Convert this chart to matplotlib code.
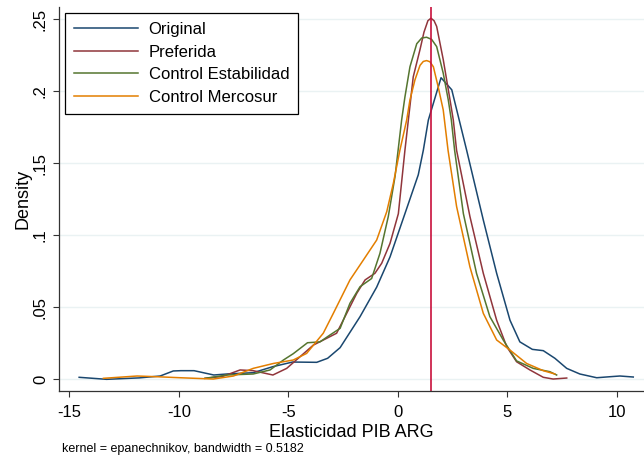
import matplotlib
matplotlib.use("Agg")
import matplotlib.pyplot as plt

plt.rcParams['font.family'] = ['Liberation Sans', 'DejaVu Sans']
plt.rcParams['axes.unicode_minus'] = False

# densities (x = elasticity, y = density)
orig_x = [-14.55, -13.3, -11.8, -10.85, -10.25, -9.9, -9.3, -8.4, -7.8, -6.6, -5.7, -4.8,
          -3.7, -3.2, -2.63, -1.72, -0.96, -0.35, 0.33, 0.94, 1.17, 1.4, 1.98, 2.47, 3.15,
          3.91, 4.52, 5.13, 5.58, 6.15, 6.65, 7.18, 7.72, 8.32, 9.09, 9.69, 10.15, 10.76]
orig_y = [0.0014, 0.0, 0.001, 0.0023, 0.0058, 0.006, 0.006, 0.003, 0.0037, 0.0046, 0.0088, 0.012,
          0.0118, 0.0146, 0.022, 0.0435, 0.064, 0.085, 0.115, 0.142, 0.159, 0.180, 0.2094, 0.201, 0.159,
          0.1106, 0.0736, 0.041, 0.026, 0.0208, 0.0199, 0.0146, 0.0076, 0.0037, 0.0011, 0.0018, 0.0023, 0.0016]

pref_x = [-8.8, -8.0, -7.2, -6.6, -5.7, -5.07, -4.46, -3.85, -3.24, -2.79, -2.33, -1.87,
          -1.49, -1.04, -0.73, -0.35, 0.03, 0.33, 0.71, 1.02, 1.2, 1.38, 1.52, 1.66, 1.78, 2.08, 2.39,
          2.54, 2.69, 3.3, 3.91, 4.52, 4.98, 5.43, 6.04, 6.65, 7.1, 7.72]
pref_y = [0.0007, 0.002, 0.0065, 0.006, 0.003, 0.0076, 0.0157, 0.0238, 0.0285, 0.032, 0.0458, 0.0597,
          0.069, 0.0736, 0.0806, 0.0944, 0.115, 0.159, 0.210, 0.229, 0.241, 0.249, 0.2507, 0.249, 0.245, 0.222, 0.194,
          0.180, 0.159, 0.113, 0.0736, 0.041, 0.0227, 0.0122, 0.0065, 0.0014, 0.0002, 0.0009]

estab_x = [-8.8, -7.8, -6.6, -5.83, -5.22, -4.77, -4.12, -3.55, -3.09, -2.63, -2.18, -1.72,
           -1.19, -0.81, -0.43, -0.12, 0.18, 0.33, 0.56, 0.87, 1.1, 1.32, 1.55, 1.78, 2.08, 2.31, 2.45,
           2.6, 3.0, 3.6, 4.21, 4.82, 5.43, 6.19, 6.95, 7.26]
estab_y = [0.0007, 0.003, 0.0037, 0.0065, 0.0134, 0.0178, 0.0254, 0.026, 0.0308, 0.0354, 0.0528, 0.0643,
           0.070, 0.0875, 0.113, 0.141, 0.180, 0.196, 0.217, 0.233, 0.237, 0.2375, 0.236, 0.231, 0.2125, 0.194, 0.180,
           0.159, 0.115, 0.0736, 0.0435, 0.0273, 0.0128, 0.0076, 0.0053, 0.003]

merc_x = [-13.44, -11.9, -11.0, -9.94, -8.42, -7.5, -6.6, -5.68, -4.77, -4.16, -3.4, -2.94,
          -2.18, -1.57, -0.96, -0.5, -0.2, 0.1, 0.41, 0.56, 0.79, 1.02, 1.17, 1.32, 1.47, 1.63, 1.85,
          2.08, 2.3, 2.69, 3.3, 3.91, 4.52, 5.13, 5.89, 6.65, 7.18]
merc_y = [0.0007, 0.0023, 0.0018, 0.0011, 0.0002, 0.0023, 0.0076, 0.011, 0.0134, 0.018, 0.032, 0.0458,
          0.069, 0.0828, 0.0967, 0.1164, 0.136, 0.159, 0.180, 0.194, 0.208, 0.218, 0.2207, 0.2213, 0.2205, 0.217, 0.203,
          0.187, 0.159, 0.12, 0.078, 0.0458, 0.0273, 0.0203, 0.011, 0.006, 0.0037]

vline_x = 1.52
xticks = [-15, -10, -5, 0, 5, 10]
yticks = [0, 0.05, 0.1, 0.15, 0.2, 0.25]
ytick_labels = ['0', '.05', '.1', '.15', '.2', '.25']

fig = plt.figure(figsize=(6.44, 4.59), dpi=100)
ax = fig.add_axes([59/644, 1 - 390.7/459, 585/644, 383.7/459])

for y in yticks:
    ax.axhline(y, color='#eaf2f3', lw=1.0, zorder=0)

ax.plot(orig_x, orig_y, color='#1a476f', lw=1.1, label='Original')
ax.plot(pref_x, pref_y, color='#90353b', lw=1.1, label='Preferida')
ax.plot(estab_x, estab_y, color='#55752f', lw=1.1, label='Control Estabilidad')
ax.plot(merc_x, merc_y, color='#e37e00', lw=1.1, label='Control Mercosur')
ax.axvline(vline_x, color='#c8103c', lw=1.2)

ax.set_xlim(-15.47, 11.25)
ax.set_ylim(-0.0079, 0.2585)
ax.set_xticks(xticks)
ax.set_yticks(yticks)
ax.set_yticklabels(ytick_labels, rotation=90, va='center')
ax.tick_params(labelsize=12, length=4, width=0.8, color='#333333')
ax.tick_params(axis='x', pad=6)
ax.tick_params(axis='y', pad=4)
for s in ['top', 'right']:
    ax.spines[s].set_visible(False)
for s in ['left', 'bottom']:
    ax.spines[s].set_color('#333333')
    ax.spines[s].set_linewidth(0.9)

ax.set_xlabel('Elasticidad PIB ARG', fontsize=13, labelpad=3)
ax.set_ylabel('Density', fontsize=13, labelpad=1)

leg = ax.legend(loc='upper left', bbox_to_anchor=(0.0103, 0.984), borderaxespad=0,
                fontsize=12, handlelength=3.8, handletextpad=0.66, borderpad=0.55,
                labelspacing=0.45, fancybox=False, framealpha=1)
leg.get_frame().set_edgecolor('black')
leg.get_frame().set_linewidth(0.9)

fig.text(62/644, 1 - 449/459, 'kernel = epanechnikov, bandwidth = 0.5182', fontsize=9, va='center')

fig.savefig('out.png', dpi=100)
